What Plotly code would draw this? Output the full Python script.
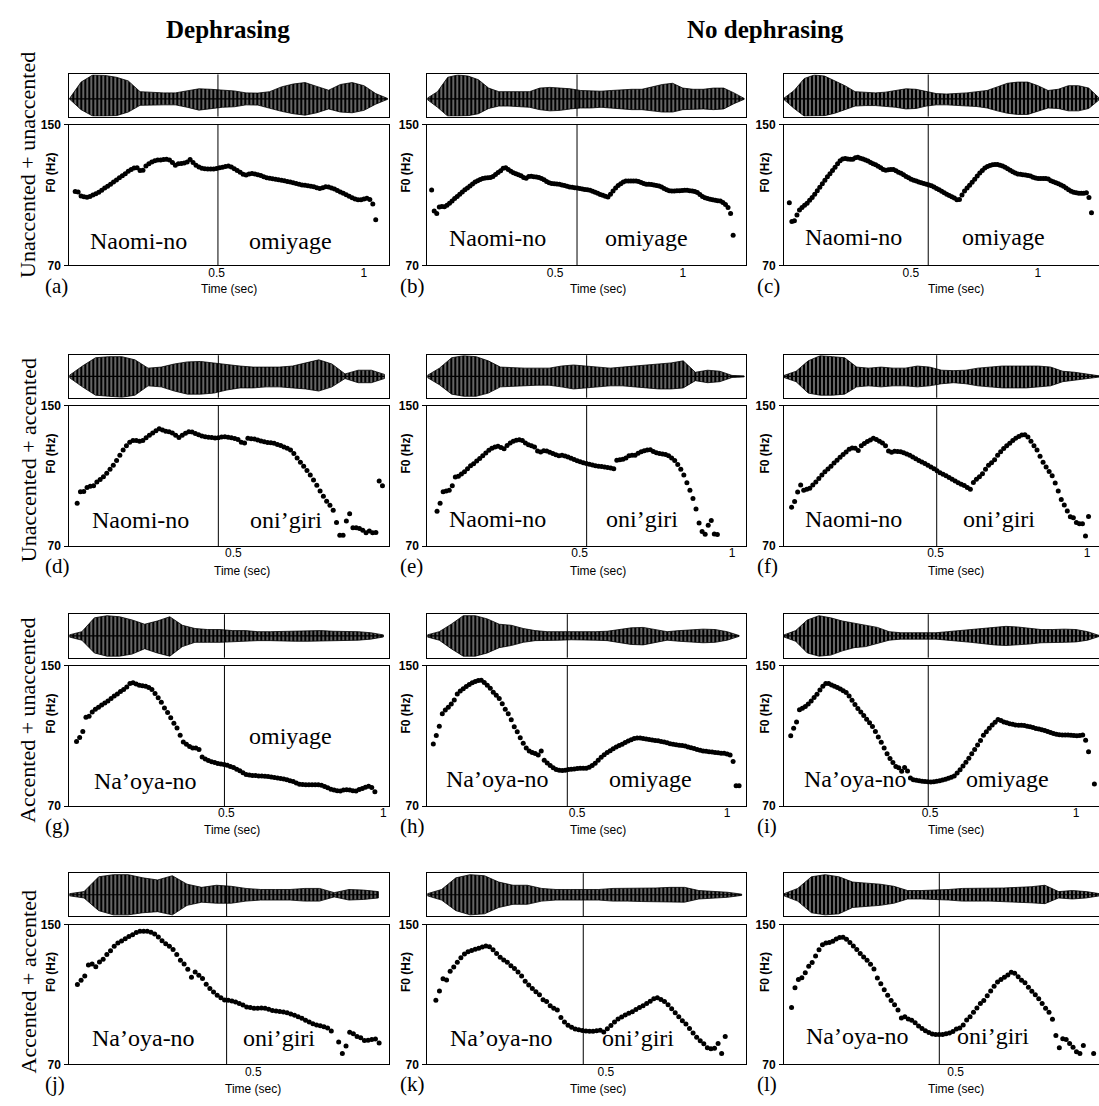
import plotly.graph_objects as go

FIG_W, FIG_H = 1099, 1106

# ---------------------------------------------------------------- text
column_titles = ["Dephrasing", "No dephrasing"]
row_titles = ["Unaccented + unaccented", "Unaccented + accented",
              "Accented + unaccented", "Accented + accented"]
panel_letters = ["(a)", "(b)", "(c)", "(d)", "(e)", "(f)",
                 "(g)", "(h)", "(i)", "(j)", "(k)", "(l)"]
first_words = ["Naomi-no"] * 6 + ["Na’oya-no"] * 6
second_words = (["omiyage"] * 3 + ["oni’giri"] * 3 +
                ["omiyage"] * 3 + ["oni’giri"] * 3)

# ---------------------------------------------------------------- data
# word boundary (sec) and visible end of the time axis for each utterance
boundary_times = [0.5045, 0.586, 0.568, 0.454, 0.523, 0.504,
                  0.494, 0.467, 0.494, 0.4275, 0.4366, 0.4524]
time_axis_end = [1.084, 1.2485, 1.2406, 0.973, 1.047, 1.0396,
                 1.017, 1.064, 1.0788, 0.868, 0.893, 0.9176]
time_ticks = [0.5, 1]
f0_ticks = [70, 150]

# F0 tracks: one value per 10 ms analysis frame (None = unvoiced frame)
FRAME_STEP = 0.01
f0_first_frame = [0.02, 0.017, 0.021, 0.024, 0.032, 0.025,
                  0.023, 0.02, 0.023, 0.022, 0.024, 0.022]

f0_a = [112, 111.7, 109.5, 109, 108.8, 109.2, 110, 110.8, 111.6, 112.7, 114, 115, 116.2, 117.4,
        118.6, 119.8, 121, 122.2, 123.5, 124.6, 125.4, 125.5, 124, 124.2, 126.5, 127.8, 128.8,
        129.5, 130, 130, 130.2, 130.4, 130, 128.5, 127, 127.8, 128, 128.2, 128.8, 130.2, 128.5,
        127, 126, 125.3, 125, 124.8, 124.8, 124.8, 125.2, 125.5, 125.8, 126.2, 126.5, 126, 125,
        124, 123, 121.8, 121.5, 122, 122.3, 122, 121.6, 121.2, 120.4, 119.9, 119.6, 119.3, 119,
        118.7, 118.5, 118.2, 117.8, 117.5, 117, 116.6, 116.2, 115.8, 115.6, 115.3, 115, 114.7,
        114.2, 113.8, 114.2, 114.8, 114.6, 114.1, 113.4, 112.6, 111.8, 111, 110.2, 109.4, 108.5,
        107.8, 107.4, 107.3, 107.8, 108.2, 107.5, 105, 96]
f0_b = [112.9, 101, 99.5, 103.2, 103.5, 103.3, 104.2, 105.4, 106.7, 108, 109.2, 110.5, 111.8,
        113, 114.1, 115.2, 116.3, 117.4, 118.2, 118.9, 119.4, 119.7, 119.9, 120, 120.6, 121.7,
        122.8, 123.9, 125.3, 125.6, 124.6, 123.6, 122.7, 122.2, 121.6, 121, 120, 119.6, 120.6,
        120.7, 120.5, 120.3, 120, 119.4, 118.7, 117.8, 117, 116.6, 116.4, 116.3, 116.1, 115.8,
        115.4, 115, 114.6, 114.4, 114.2, 114, 113.8, 113.5, 113.2, 113, 112.7, 112.2, 111.6, 111,
        110.4, 109.9, 109.3, 108.9, 110.5, 112.3, 114, 115.5, 116.5, 117.4, 118, 118, 118, 118,
        118, 117.8, 117.2, 116.6, 116.1, 116.1, 116, 115.8, 115.5, 115.2, 114.6, 113.8, 113,
        112.5, 112.3, 112.3, 112.4, 112.5, 112.6, 112.7, 112.7, 112.5, 112.3, 112.1, 111.5,
        110.3, 109.2, 108.5, 108, 107.6, 107.3, 107, 106.8, 106.6, 105.8, 104.6, 103, 99.5, 87.1]
f0_c = [105.7, 95, 95.4, 98.6, 101.5, 103, 104.2, 105.4, 107, 108.6, 110.5, 112.5, 114.4, 116.4,
        118.4, 120.4, 122.2, 124, 125.8, 127.8, 129.6, 130.6, 130.8, 130.6, 130.4, 130.4, 131.2,
        131.5, 131, 130.6, 130, 129.4, 128.6, 127.8, 127.2, 126.4, 125.5, 124.6, 124.2, 124.4,
        124.6, 124.5, 123.8, 123, 122.4, 121.6, 120.6, 119.8, 119, 118.5, 118, 117.4, 117, 116.6,
        116.2, 115.8, 115.3, 114.6, 113.8, 113, 112.2, 111.3, 110.5, 109.8, 109, 108.3, 107.4,
        107.5, 110, 112.3, 114, 115.6, 117.3, 119, 120.8, 122.5, 124, 125.4, 126.3, 126.9, 127.3,
        127.4, 127.4, 127, 126.6, 125.8, 125, 124.1, 123.3, 122.5, 122, 121.8, 121.6, 121.5,
        121.2, 120.8, 120.2, 119.7, 119.5, 119.5, 119.5, 119.5, 119.1, 118.2, 117.6, 117, 116.4,
        115.8, 115, 114, 113, 112.2, 111.6, 111.3, 111.1, 111, 111.1, 111.3, 108.6, 99.9]
f0_d = [94.4, 101, 101.2, 103.4, 104.2, 104.4, 106.6, 108, 109.6, 111.5, 113.8, 116.2, 118.8,
        121.8, 124.8, 127.2, 129.2, 130.2, 130.3, 129.8, 130.2, 131.8, 133.3, 134.6, 135.8,
        136.9, 136.2, 135.6, 135.3, 134.6, 133.2, 132, 133.2, 134.4, 135.2, 135.1, 134.2, 133.5,
        132.8, 132.4, 132.1, 131.9, 131.7, 131.8, 132.3, 132.4, 132.1, 131.8, 131.4, 130.8,
        129.2, 128.8, 131.5, 131.3, 131.1, 130.5, 130, 129.6, 129.1, 129, 128.7, 128, 127.4,
        126.6, 125.8, 124.8, 122.8, 120.2, 117.8, 115.5, 113.2, 110.6, 107.7, 104.7, 101.5, 98.4,
        95.6, 93.3, 90.5, 83.5, 76.2, 76.2, 84.3, 88.4, 80.5, 80.5, 80.1, 79, 77.6, 78.6, 77.6,
        77.7, 107.2, 104.4]
f0_e = [89.9, 94.5, 101, 101.5, 101.9, 104.4, 109.4, 109.9, 111.2, 112.4, 114.2, 115.8, 117,
        118.5, 120, 121.5, 123.1, 124.7, 125.8, 126.5, 126.9, 126.3, 125.6, 127.4, 128.8, 129.8,
        130.4, 130.7, 130.2, 128.8, 127.8, 127.2, 126.5, 124.2, 123.7, 124.4, 124.2, 123.5,
        122.8, 122.1, 121.6, 121.8, 121.4, 120.8, 120.1, 119.4, 118.7, 118.1, 117.5, 117.1,
        116.7, 116.3, 115.8, 115.5, 115.4, 115.2, 114.8, 114.6, 114.1, 119, 119.2, 119.5, 120.2,
        121.5, 121.8, 121.8, 123, 123.9, 124.4, 124.8, 125, 124, 123.3, 122.9, 122.6, 122.3,
        121.6, 120.3, 118.8, 116.6, 113.8, 110.5, 106.2, 101.9, 97.2, 91.2, 83.2, 78.3, 76.8,
        81.9, 84.6, 76.9, 76.6]
f0_f = [92.2, 95.5, 100.8, 104.9, 101.9, 102.5, 103, 104.8, 106.6, 108.6, 110.5, 112.4, 114,
        115.6, 117.4, 119, 120.7, 122.2, 123.7, 125.2, 126, 125.8, 124.5, 127.2, 128.6, 129.7,
        130.6, 131.6, 130.8, 129.8, 128.8, 127.2, 124.3, 123.6, 124.1, 124, 123.8, 123.3, 122.6,
        121.8, 120.9, 119.9, 118.9, 118, 117.1, 116.2, 115.2, 114.1, 113, 111.9, 111, 110.2,
        109.2, 108.1, 107.2, 106.2, 105.3, 104.6, 103.5, 102.5, 106.3, 108.2, 109.6, 111.3,
        113.8, 116.2, 117.6, 119.3, 121.8, 123.8, 125.7, 127.3, 128.7, 130.2, 131.6, 132.6,
        133.4, 133.6, 132.2, 129.8, 127.3, 124.8, 121.3, 117.8, 115.2, 112.6, 110.2, 106, 101.4,
        96.6, 93.5, 90, 86.8, 86.2, 83.4, 82.8, 82.8, 75.8, 86.9]
f0_g = [106.8, 109.1, 112.6, 120.6, 121.2, 123.6, 125.2, 126.4, 127.6, 128.8, 130, 131.4, 132.8,
        134, 135.3, 136.5, 138, 140, 140.4, 139.6, 139, 138.6, 138.3, 137.6, 136.5, 134.2, 131.8,
        129.3, 126, 123.4, 120.4, 117.2, 114.6, 110.4, 106.6, 105.2, 104, 103.1, 103.1, 102.3,
        98, 96.8, 96, 95.3, 94.8, 94.3, 94, 93.7, 93.3, 92.6, 92, 91, 90.1, 89, 88, 87.7, 87.5,
        87.4, 87.2, 87.1, 87, 86.8, 86.6, 86.3, 86, 85.7, 85.4, 85, 84.5, 84, 83.1, 82.4, 82.3,
        82.2, 82.2, 82.2, 82.2, 82.2, 81.8, 81.2, 80.4, 79.6, 79.2, 78.8, 78.6, 79.2, 79.3, 79.2,
        78.8, 78.6, 79.4, 80, 80.8, 81.3, 80.6, 78.1]
f0_h = [105.4, 110.2, 115.5, 122.6, 124.8, 126.4, 128.2, 130.5, 134, 135.6, 137, 138.2, 139.3,
        140.3, 141.1, 141.7, 141.8, 140.5, 138.9, 137.2, 134.9, 133.2, 131.4, 128.4, 125.3,
        122.7, 119.2, 115.3, 112.4, 109, 105.8, 103.1, 101.4, 100.6, 100, 99.2, 101.4, 96.2,
        94.6, 93.2, 91.8, 90.9, 90.4, 90.3, 90.5, 90.8, 91, 91.2, 91.4, 91.6, 91.6, 91.6, 92.2,
        93.2, 94.4, 96.2, 97.9, 99.3, 100.5, 101.6, 102.7, 103.7, 104.5, 105.3, 106.2, 107.1,
        107.8, 108.5, 108.9, 108.8, 108.6, 108.3, 108, 107.7, 107.4, 107.2, 106.9, 106.6, 106.1,
        105.6, 105.2, 105, 104.7, 104.5, 104.2, 103.7, 103.2, 102.8, 102.3, 101.8, 101.4, 101.2,
        101, 100.8, 100.6, 100.4, 100.2, 100.1, 99.7, 99.2, 95.4, 81.6, 81.6]
f0_i = [110.1, 114.4, 118, 125, 125.8, 126.8, 128.2, 129.9, 131.9, 133.8, 136.2, 138.4, 140, 140,
        139.1, 138.3, 137.6, 136.8, 135.8, 134.8, 132.8, 130.3, 127.9, 125.7, 123.6, 121.6,
        119.6, 117.5, 115.4, 112.6, 109.4, 106.4, 103.1, 99.8, 97.2, 94.8, 92.6, 91.8, 89.8, 92,
        90, 86, 85, 84.7, 84.4, 84.2, 84, 83.8, 83.7, 83.9, 84.1, 84.5, 84.9, 85.3, 85.8, 86.4,
        87.2, 88.8, 90.7, 92.8, 95, 97.3, 99.8, 102.2, 104.8, 107.4, 110.4, 112.4, 114.4, 116.2,
        117.8, 119.4, 118.8, 118, 117.5, 117, 116.7, 116.3, 116.1, 116.1, 116, 115.6, 115.2,
        114.8, 114.3, 113.9, 113.5, 113.1, 112.5, 111.9, 111.4, 110.9, 110.7, 110.5, 110.5,
        110.5, 110.4, 110.2, 110.1, 110.3, 110.5, 107.5, 101, None, 82.6]
f0_j = [115.7, 118.2, 120.6, 126.8, 127.4, 125.8, 128.6, 130.2, 132.8, 135, 137.6, 139.4, 140.6,
        141.9, 143.2, 144.2, 145.5, 146.1, 146.2, 146.1, 145.6, 144.6, 142.9, 140.8, 139, 137.6,
        135.7, 132.8, 129.6, 127.4, 124.4, 119.9, 122.8, 121, 119.1, 115.9, 113.4, 111.4, 109.5,
        108.1, 106.8, 106.7, 106.3, 105.7, 104.9, 104, 102.9, 102.5, 102.2, 102.1, 102.3, 102.2,
        101.5, 100.8, 100.5, 100.3, 100, 99.6, 98.9, 98.2, 97.3, 96.4, 95.3, 94.2, 93.2, 92.6,
        92.1, 91.6, 90.8, 89.1, None, 82.8, 76.2, 80.5, 88.4, 87.5, 86, 85.2, 83.7, 83.8, 84.2,
        84.5, 82.2]
f0_k = [106.7, 112, 119, 118.3, 123.3, 125.7, 128.5, 131, 133.2, 134.5, 135.2, 135.8, 136.5,
        137.2, 137.8, 137.3, 135.6, 133.5, 131.3, 129.7, 128.5, 126.5, 124.8, 122.9, 120.6,
        117.6, 115.4, 113.4, 111.6, 109.9, 107, 106, 103.6, 102.2, 101.2, 96.8, 94.3, 92.4, 91.2,
        90.3, 89.8, 89.4, 89.1, 89, 89, 89.2, 89.5, 88.6, 90.4, 92.3, 94.2, 96, 97.2, 98.3, 99.3,
        100.1, 101.4, 102.6, 103.5, 104.8, 106.2, 107.5, 108.2, 107.2, 106, 104.2, 101.8, 99.6,
        97.3, 95, 93.1, 90.5, 88, 85.6, 83.6, 81.8, 79.5, 79, 79.2, 82, 76.2, 86]
f0_l = [102.5, 113.8, 118.6, 119.6, 122.5, 126.2, 128.3, 132, 135.6, 138.4, 139.4, 139.8, 140.5,
        141.7, 142.6, 142.8, 141.6, 139.8, 137.8, 135.7, 133.4, 131.4, 129.6, 127.3, 124.6,
        119.5, 116.1, 112.7, 109.5, 106.5, 104.2, 101.2, 96.6, 97.3, 96, 95.3, 93.8, 92, 90.5,
        89.3, 88.2, 87.4, 87.1, 87.1, 87.1, 87.5, 88, 88.9, 90.2, 90.8, 92.6, 95.4, 97.3, 99.9,
        102.3, 104.9, 106.6, 109.3, 112, 114.7, 117.2, 118.6, 119.8, 121.2, 122.7, 122.2, 120.2,
        118.2, 116.7, 114.2, 111.8, 109.9, 107.6, 104.8, 102.1, 99.8, 95.8, 86.5, 79.6, 84.7,
        84.2, 82, 79.8, 77.2, 76.2, 80.9, None, None, 76.2]

# waveform amplitude envelopes (positive / negative peak), every 40 ms from 0 s
ENV_STEP = 0.04
env_a_up = [0, 0.7, 1.0, 0.98, 0.9, 0.75, 0.3, 0.27, 0.25, 0.25, 0.32, 0.42, 0.4, 0.38, 0.33,
            0.25, 0.24, 0.3, 0.5, 0.62, 0.68, 0.52, 0.36, 0.6, 0.68, 0.55, 0.22, 0.02]
env_a_lo = [0, 0.45, 0.72, 0.72, 0.7, 0.55, 0.27, 0.27, 0.25, 0.25, 0.35, 0.47, 0.42, 0.35, 0.33,
            0.25, 0.26, 0.38, 0.52, 0.62, 0.68, 0.58, 0.42, 0.55, 0.58, 0.48, 0.22, 0.02]
env_b_up = [0.03, 0.3, 0.9, 1.0, 0.95, 0.8, 0.45, 0.3, 0.3, 0.3, 0.3, 0.45, 0.48, 0.45, 0.42,
            0.35, 0.32, 0.32, 0.35, 0.38, 0.4, 0.4, 0.5, 0.6, 0.65, 0.45, 0.4, 0.4, 0.45, 0.45,
            0.25, 0.02]
env_b_lo = [0.03, 0.35, 0.72, 0.72, 0.7, 0.62, 0.4, 0.3, 0.3, 0.32, 0.35, 0.45, 0.5, 0.48, 0.42,
            0.38, 0.38, 0.35, 0.4, 0.42, 0.45, 0.45, 0.5, 0.55, 0.55, 0.45, 0.42, 0.42, 0.45,
            0.42, 0.2, 0.02]
env_c_up = [0.03, 0.35, 0.85, 1.0, 0.95, 0.75, 0.55, 0.3, 0.28, 0.25, 0.28, 0.35, 0.42, 0.4,
            0.3, 0.22, 0.2, 0.22, 0.25, 0.3, 0.35, 0.5, 0.65, 0.7, 0.7, 0.55, 0.35, 0.4, 0.55,
            0.55, 0.45, 0.05]
env_c_lo = [0.03, 0.4, 0.72, 0.72, 0.7, 0.6, 0.45, 0.3, 0.28, 0.28, 0.3, 0.35, 0.42, 0.4, 0.3,
            0.25, 0.25, 0.25, 0.3, 0.32, 0.38, 0.5, 0.6, 0.65, 0.65, 0.5, 0.38, 0.4, 0.5, 0.5,
            0.4, 0.05]
env_d_up = [0.05, 0.5, 0.9, 0.95, 0.95, 0.8, 0.4, 0.45, 0.6, 0.7, 0.72, 0.65, 0.55, 0.5, 0.45,
            0.45, 0.45, 0.5, 0.65, 0.8, 0.6, 0.12, 0.3, 0.3, 0.1]
env_d_lo = [0.05, 0.5, 0.9, 0.95, 1.0, 0.9, 0.45, 0.5, 0.7, 0.85, 0.85, 0.8, 0.65, 0.55, 0.55,
            0.5, 0.5, 0.55, 0.6, 0.7, 0.5, 0.1, 0.3, 0.3, 0.1]
env_e_up = [0.05, 0.4, 0.9, 1.0, 0.95, 0.75, 0.45, 0.42, 0.4, 0.4, 0.4, 0.5, 0.55, 0.5, 0.45,
            0.4, 0.45, 0.5, 0.55, 0.6, 0.65, 0.75, 0.2, 0.3, 0.25, 0.05, 0.02]
env_e_lo = [0.05, 0.4, 0.85, 0.95, 0.95, 0.8, 0.5, 0.45, 0.45, 0.42, 0.42, 0.5, 0.6, 0.55, 0.5,
            0.45, 0.45, 0.5, 0.55, 0.6, 0.6, 0.55, 0.2, 0.3, 0.25, 0.05, 0.02]
env_f_up = [0.05, 0.25, 0.75, 1.0, 0.95, 0.9, 0.45, 0.4, 0.45, 0.4, 0.4, 0.5, 0.45, 0.3, 0.28,
            0.3, 0.4, 0.45, 0.5, 0.5, 0.5, 0.5, 0.45, 0.25, 0.2, 0.1, 0.03]
env_f_lo = [0.05, 0.25, 0.8, 0.9, 0.9, 0.85, 0.5, 0.45, 0.5, 0.45, 0.45, 0.5, 0.45, 0.35, 0.3,
            0.35, 0.45, 0.5, 0.55, 0.55, 0.55, 0.5, 0.45, 0.25, 0.2, 0.1, 0.03]
env_g_up = [0.05, 0.2, 0.85, 0.95, 0.9, 0.75, 0.55, 0.7, 0.9, 0.5, 0.35, 0.3, 0.3, 0.25, 0.25,
            0.2, 0.2, 0.22, 0.22, 0.25, 0.25, 0.22, 0.22, 0.2, 0.15, 0.05]
env_g_lo = [0.05, 0.2, 0.8, 0.95, 0.95, 0.85, 0.6, 0.8, 0.95, 0.5, 0.3, 0.3, 0.3, 0.25, 0.25,
            0.22, 0.22, 0.22, 0.25, 0.25, 0.25, 0.22, 0.22, 0.2, 0.15, 0.05]
env_h_up = [0.05, 0.2, 0.55, 0.95, 0.95, 0.8, 0.55, 0.5, 0.35, 0.25, 0.2, 0.2, 0.18, 0.18, 0.2,
            0.22, 0.3, 0.38, 0.4, 0.3, 0.2, 0.25, 0.3, 0.32, 0.3, 0.2, 0.02]
env_h_lo = [0.05, 0.2, 0.6, 0.95, 0.95, 0.8, 0.55, 0.45, 0.3, 0.22, 0.2, 0.2, 0.18, 0.18, 0.2,
            0.22, 0.3, 0.4, 0.42, 0.32, 0.2, 0.25, 0.3, 0.32, 0.3, 0.2, 0.02]
env_i_up = [0.05, 0.25, 0.75, 0.95, 0.85, 0.7, 0.6, 0.5, 0.4, 0.2, 0.15, 0.15, 0.15, 0.15, 0.2,
            0.25, 0.3, 0.35, 0.42, 0.45, 0.42, 0.35, 0.3, 0.3, 0.32, 0.3, 0.2, 0.02]
env_i_lo = [0.05, 0.25, 0.8, 0.95, 0.9, 0.7, 0.55, 0.5, 0.35, 0.2, 0.15, 0.15, 0.15, 0.15, 0.2,
            0.25, 0.3, 0.35, 0.42, 0.45, 0.42, 0.38, 0.32, 0.3, 0.3, 0.28, 0.2, 0.02]
env_j_up = [0.05, 0.15, 0.85, 0.95, 0.95, 0.8, 0.7, 0.9, 0.5, 0.35, 0.45, 0.4, 0.3, 0.25, 0.25,
            0.25, 0.3, 0.3, 0.1, 0.25, 0.22, 0.15]
env_j_lo = [0.05, 0.15, 0.75, 0.95, 0.95, 0.85, 0.8, 0.95, 0.5, 0.35, 0.4, 0.4, 0.3, 0.25, 0.25,
            0.25, 0.3, 0.3, 0.1, 0.25, 0.22, 0.15]
env_k_up = [0.05, 0.25, 0.8, 0.95, 0.9, 0.6, 0.45, 0.45, 0.3, 0.25, 0.25, 0.25, 0.25, 0.3, 0.3,
            0.3, 0.32, 0.35, 0.35, 0.2, 0.15, 0.12, 0.03]
env_k_lo = [0.05, 0.25, 0.75, 0.95, 0.9, 0.6, 0.45, 0.45, 0.3, 0.25, 0.25, 0.25, 0.25, 0.3, 0.3,
            0.32, 0.35, 0.35, 0.35, 0.2, 0.15, 0.12, 0.03]
env_l_up = [0.05, 0.3, 0.85, 0.95, 0.85, 0.6, 0.55, 0.5, 0.4, 0.2, 0.2, 0.22, 0.25, 0.3, 0.3,
            0.3, 0.32, 0.35, 0.38, 0.45, 0.15, 0.2, 0.15, 0.05]
env_l_lo = [0.05, 0.3, 0.85, 0.95, 0.9, 0.6, 0.55, 0.5, 0.4, 0.2, 0.2, 0.22, 0.25, 0.3, 0.3,
            0.3, 0.32, 0.35, 0.38, 0.42, 0.15, 0.2, 0.15, 0.05]

f0_tracks = [f0_a, f0_b, f0_c, f0_d, f0_e, f0_f, f0_g, f0_h, f0_i, f0_j, f0_k, f0_l]
env_upper = [env_a_up, env_b_up, env_c_up, env_d_up, env_e_up, env_f_up,
             env_g_up, env_h_up, env_i_up, env_j_up, env_k_up, env_l_up]
env_lower = [env_a_lo, env_b_lo, env_c_lo, env_d_lo, env_e_lo, env_f_lo,
             env_g_lo, env_h_lo, env_i_lo, env_j_lo, env_k_lo, env_l_lo]

# ---------------------------------------------------------------- layout (pixels)
col_left = [69.3, 427.3, 784.0]
col_right = [388.7, 746.3, 1099.0]
wave_top = [68.3, 352.7, 615.0, 877.3]
wave_bot = [111.0, 395.7, 659.0, 921.0]
f0_top = [119.3, 404.0, 667.3, 929.3]
f0_bot = [261.7, 546.0, 809.3, 1071.0]
wave_yrange = [[-0.74, 1.02], [-1.02, 1.02], [-1.02, 1.02], [-1.02, 1.02]]

letter_left = [43, 398, 755]
letter_mid_y = [283, 566, 830, 1091]
f0_title_x = [51, 406, 765]
time_title_x = [229, 598, 956, 242, 598, 956, 232, 598, 956, 253, 598, 956]
time_title_y = [286, 571, 834, 1096]
word1_left = [88, 447, 803, 90, 447, 803, 92, 444, 802, 90, 448, 804]
word2_left = [247, 603, 960, 248, 604, 961, 247, 607, 964, 241, 600, 955]
word1_base = [250, 247, 246, 533, 532, 532, 797, 795, 795, 1057, 1057, 1055]
word2_base = [250, 247, 246, 533, 532, 532, 752, 795, 795, 1057, 1057, 1055]

SERIF = "Liberation Serif"
SANS = "Liberation Sans"


def px_x(v):
    return v / FIG_W


def px_y(v):
    return 1 - v / FIG_H


def axis_name(letter, n):
    return f"{letter}axis" if n == 1 else f"{letter}axis{n}"


def axis_ref(letter, n):
    return letter if n == 1 else f"{letter}{n}"


fig = go.Figure()
layout_axes = {}
shapes = []
annotations = []

for p in range(12):
    r, c = divmod(p, 3)
    nf, nw = 2 * p + 1, 2 * p + 2
    xdom = [px_x(col_left[c]), px_x(col_right[c])]
    trange = [0, time_axis_end[p]]
    right_edge = c < 2  # the right column runs off the page edge

    # F0 scatter
    vals = f0_tracks[p]
    times = [f0_first_frame[p] + i * FRAME_STEP for i in range(len(vals))]
    fig.add_trace(go.Scatter(
        x=times, y=vals, mode="markers",
        marker=dict(size=5, color="black", line=dict(width=0)),
        xaxis=axis_ref("x", nf), yaxis=axis_ref("y", nf),
        showlegend=False, hoverinfo="skip"))

    # waveform envelope: solid black body broken by thin light striations
    up, lo = env_upper[p], env_lower[p]
    et = [i * ENV_STEP for i in range(len(up))]
    fig.add_trace(go.Scatter(
        x=et + et[::-1], y=up + [-v for v in lo[::-1]],
        mode="lines", fill="toself", line=dict(width=0.8, color="black"),
        fillcolor="black",
        fillpattern=dict(shape="|", fgcolor="white", bgcolor="black", fgopacity=0.9,
                         size=4, solidity=0.22),
        xaxis=axis_ref("x", nw), yaxis=axis_ref("y", nw),
        showlegend=False, hoverinfo="skip"))
    fig.add_trace(go.Scatter(
        x=[et[0], et[-1]], y=[0, 0], mode="lines",
        line=dict(width=1.2, color="black"),
        xaxis=axis_ref("x", nw), yaxis=axis_ref("y", nw),
        showlegend=False, hoverinfo="skip"))

    frame_line = dict(showline=True, linecolor="black", linewidth=1,
                      showgrid=False, zeroline=False)
    layout_axes[axis_name("x", nf)] = dict(
        domain=xdom, range=trange, anchor=axis_ref("y", nf), mirror=True,
        tickmode="array", tickvals=time_ticks, ticktext=["0.5", "1"], ticks="",
        ticklabelstandoff=-4,
        tickfont=dict(family=SANS, size=12, color="black"), **frame_line)
    layout_axes[axis_name("y", nf)] = dict(
        domain=[px_y(f0_bot[r]), px_y(f0_top[r])], range=[70, 150],
        anchor=axis_ref("x", nf), mirror=right_edge,
        tickmode="array", tickvals=f0_ticks, ticks="outside", ticklen=4,
        tickcolor="black", ticklabelstandoff=1,
        tickfont=dict(family=SANS, size=12, color="black", weight="bold"), **frame_line)
    layout_axes[axis_name("x", nw)] = dict(
        domain=xdom, range=trange, anchor=axis_ref("y", nw), mirror=True,
        showticklabels=False, ticks="", **frame_line)
    layout_axes[axis_name("y", nw)] = dict(
        domain=[px_y(wave_bot[r]), px_y(wave_top[r])], range=wave_yrange[r],
        anchor=axis_ref("x", nw), mirror=right_edge,
        showticklabels=False, ticks="", **frame_line)

    # word boundary cursor through both panes
    for n in (nf, nw):
        shapes.append(dict(type="line", xref=axis_ref("x", n), yref=f"{axis_ref('y', n)} domain",
                           x0=boundary_times[p], x1=boundary_times[p], y0=0, y1=1,
                           line=dict(color="black", width=1)))

    # words
    for word, left, base in ((first_words[p], word1_left[p], word1_base[p]),
                             (second_words[p], word2_left[p], word2_base[p])):
        annotations.append(dict(text=word, xref="paper", yref="paper",
                                x=px_x(left), y=px_y(base + 2), xanchor="left", yanchor="bottom",
                                showarrow=False, font=dict(family=SERIF, size=24, color="black")))

    annotations.append(dict(text=panel_letters[p], xref="paper", yref="paper",
                            x=px_x(letter_left[c]), y=px_y(letter_mid_y[r]),
                            xanchor="left", yanchor="middle", showarrow=False,
                            font=dict(family=SERIF, size=21, color="black")))
    annotations.append(dict(text="F0 (Hz)", xref="paper", yref="paper", textangle=-90,
                            x=px_x(f0_title_x[c]),
                            y=px_y(f0_top[r] + 0.34 * (f0_bot[r] - f0_top[r])),
                            xanchor="center", yanchor="middle", showarrow=False,
                            font=dict(family=SANS, size=12, color="black", weight="bold")))
    annotations.append(dict(text="Time (sec)", xref="paper", yref="paper",
                            x=px_x(time_title_x[p]), y=px_y(time_title_y[r]),
                            xanchor="center", yanchor="middle", showarrow=False,
                            font=dict(family=SANS, size=12, color="black")))

row_label_y = [160, 459, 723, 988]
for r, title in enumerate(row_titles):
    annotations.append(dict(text=title, xref="paper", yref="paper", textangle=-90,
                            x=px_x(28), y=px_y(row_label_y[r]),
                            xanchor="center", yanchor="middle", showarrow=False,
                            font=dict(family=SERIF, size=22, color="black")))

header_x = [228, 765]
for title, hx in zip(column_titles, header_x):
    annotations.append(dict(text=title, xref="paper", yref="paper",
                            x=px_x(hx), y=px_y(23), xanchor="center", yanchor="middle",
                            showarrow=False,
                            font=dict(family=SERIF, size=25, color="black", weight="bold")))

fig.update_layout(
    width=FIG_W, height=FIG_H,
    margin=dict(l=0, r=0, t=0, b=0),
    paper_bgcolor="white", plot_bgcolor="white",
    showlegend=False,
    shapes=shapes, annotations=annotations,
    **layout_axes)

fig.write_html("out.html", config={"displayModeBar": False})
